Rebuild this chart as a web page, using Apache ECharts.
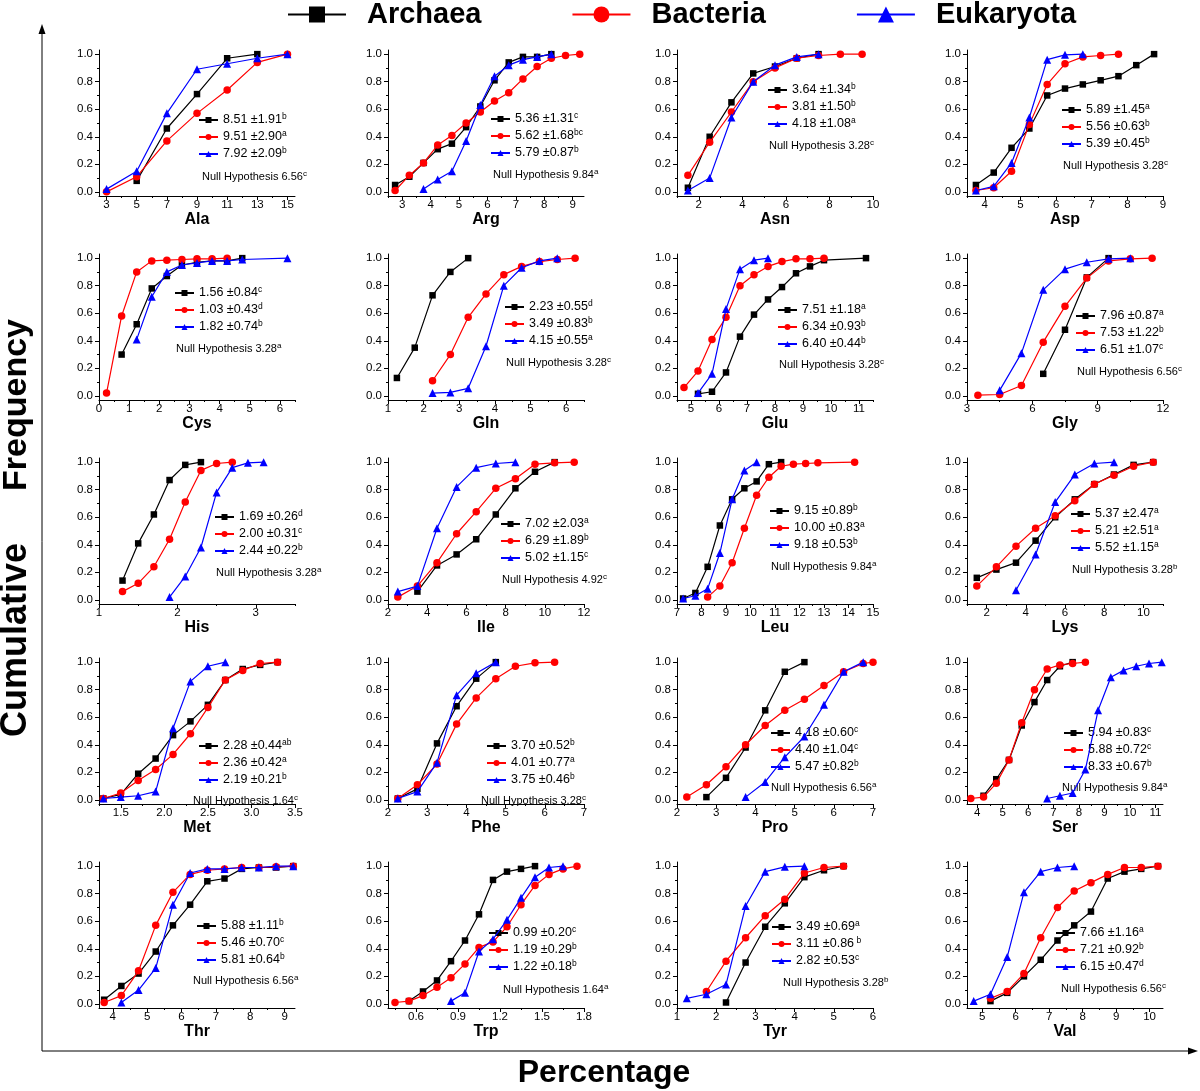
<!DOCTYPE html>
<html><head><meta charset="utf-8">
<script src="https://cdn.jsdelivr.net/npm/echarts@6/dist/echarts.min.js"></script>
<style>html,body{margin:0;padding:0;background:#fff}#c{width:1200px;height:1091px}</style>
</head><body><div id="c"></div>
<script>
const aminoAcids = ['Ala','Arg','Asn','Asp','Cys','Gln','Glu','Gly','His','Ile','Leu','Lys','Met','Phe','Pro','Ser','Thr','Trp','Tyr','Val'];
const groups = ['Archaea','Bacteria','Eukaryota'];

const archaea = [
  [[5,0.08],[7,0.46],[9,0.71],[11,0.97],[13,1.0]],
  [[2.75,0.05],[3.25,0.11],[3.75,0.21],[4.25,0.31],[4.75,0.35],[5.25,0.47],[5.75,0.62],[6.25,0.81],[6.75,0.94],[7.25,0.98],[7.75,0.98],[8.25,1.0]],
  [[1.5,0.03],[2.5,0.40],[3.5,0.65],[4.5,0.86],[5.5,0.91],[6.5,0.97],[7.5,1.0]],
  [[3.75,0.05],[4.25,0.14],[4.75,0.32],[5.25,0.46],[5.75,0.70],[6.25,0.75],[6.75,0.78],[7.25,0.81],[7.75,0.84],[8.25,0.92],[8.75,1.0]],
  [[0.75,0.30],[1.25,0.52],[1.75,0.78],[2.25,0.87],[2.75,0.95],[3.25,0.97],[3.75,0.98],[4.25,0.98],[4.75,1.0]],
  [[1.25,0.13],[1.75,0.35],[2.25,0.73],[2.75,0.90],[3.25,1.0]],
  [[5.25,0.015],[5.75,0.03],[6.25,0.17],[6.75,0.43],[7.25,0.59],[7.75,0.70],[8.25,0.79],[8.75,0.89],[9.25,0.94],[9.75,0.985],[11.25,1.0]],
  [[6.5,0.16],[7.5,0.48],[8.5,0.86],[9.5,1.0]],
  [[1.3,0.14],[1.5,0.41],[1.7,0.62],[1.9,0.87],[2.1,0.98],[2.3,1.0]],
  [[3.5,0.06],[4.5,0.25],[5.5,0.33],[6.5,0.44],[7.5,0.62],[8.5,0.81],[9.5,0.93],[10.5,1.0]],
  [[7.25,0.01],[7.75,0.05],[8.25,0.24],[8.75,0.54],[9.25,0.73],[9.75,0.81],[10.25,0.86],[10.75,0.985],[11.25,1.0]],
  [[1.5,0.16],[2.5,0.22],[3.5,0.27],[4.5,0.43],[5.5,0.60],[6.5,0.73],[7.5,0.84],[8.5,0.91],[9.5,0.98],[10.5,1.0]],
  [[1.3,0.01],[1.5,0.04],[1.7,0.19],[1.9,0.30],[2.1,0.47],[2.3,0.57],[2.5,0.69],[2.7,0.87],[2.9,0.95],[3.1,0.98],[3.3,1.0]],
  [[2.25,0.01],[2.75,0.08],[3.25,0.41],[3.75,0.68],[4.25,0.88],[4.75,1.0]],
  [[2.75,0.02],[3.25,0.16],[3.75,0.38],[4.25,0.65],[4.75,0.93],[5.25,1.0]],
  [[4.25,0.03],[4.75,0.15],[5.25,0.29],[5.75,0.54],[6.25,0.71],[6.75,0.87],[7.25,0.97],[7.75,1.0]],
  [[3.75,0.03],[4.25,0.13],[4.75,0.22],[5.25,0.38],[5.75,0.57],[6.25,0.72],[6.75,0.89],[7.25,0.91],[7.75,0.98],[8.25,0.99],[8.75,0.99],[9.25,1.0]],
  [[0.55,0.02],[0.65,0.09],[0.75,0.17],[0.85,0.31],[0.95,0.46],[1.05,0.65],[1.15,0.90],[1.25,0.96],[1.35,0.98],[1.45,1.0]],
  [[2.25,0.01],[2.75,0.30],[3.25,0.56],[3.75,0.73],[4.25,0.92],[4.75,0.97],[5.25,1.0]],
  [[5.25,0.02],[5.75,0.08],[6.25,0.20],[6.75,0.32],[7.25,0.46],[7.75,0.57],[8.25,0.67],[8.75,0.91],[9.25,0.96],[9.75,0.98],[10.25,1.0]]
];
const bacteria = [
  [[3,0.0],[5,0.11],[7,0.37],[9,0.57],[11,0.74],[13,0.94],[15,1.0]],
  [[2.75,0.01],[3.25,0.12],[3.75,0.21],[4.25,0.34],[4.75,0.41],[5.25,0.50],[5.75,0.58],[6.25,0.66],[6.75,0.72],[7.25,0.82],[7.75,0.91],[8.25,0.97],[8.75,0.99],[9.25,1.0]],
  [[1.5,0.12],[2.5,0.36],[3.5,0.58],[4.5,0.80],[5.5,0.90],[6.5,0.97],[7.5,0.99],[8.5,1.0],[9.5,1.0]],
  [[3.75,0.01],[4.25,0.03],[4.75,0.15],[5.25,0.49],[5.75,0.78],[6.25,0.93],[6.75,0.98],[7.25,0.99],[7.75,1.0]],
  [[0.25,0.02],[0.75,0.58],[1.25,0.90],[1.75,0.98],[2.25,0.985],[2.75,0.99],[3.25,0.995],[3.75,0.995],[4.25,1.0]],
  [[2.25,0.11],[2.75,0.30],[3.25,0.57],[3.75,0.74],[4.25,0.88],[4.75,0.94],[5.25,0.975],[5.75,0.99],[6.25,1.0]],
  [[4.75,0.06],[5.25,0.18],[5.75,0.41],[6.25,0.57],[6.75,0.80],[7.25,0.88],[7.75,0.94],[8.25,0.975],[8.75,0.995],[9.25,0.995],[9.75,1.0]],
  [[3.5,0.005],[4.5,0.01],[5.5,0.075],[6.5,0.39],[7.5,0.65],[8.5,0.855],[9.5,0.98],[10.5,0.995],[11.5,1.0]],
  [[1.3,0.06],[1.5,0.12],[1.7,0.24],[1.9,0.44],[2.1,0.71],[2.3,0.94],[2.5,0.99],[2.7,1.0]],
  [[2.5,0.02],[3.5,0.10],[4.5,0.27],[5.5,0.48],[6.5,0.64],[7.5,0.81],[8.5,0.88],[9.5,0.985],[10.5,0.995],[11.5,1.0]],
  [[8.25,0.02],[8.75,0.10],[9.25,0.27],[9.75,0.52],[10.25,0.76],[10.75,0.89],[11.25,0.97],[11.75,0.985],[12.25,0.99],[12.75,0.995],[14.25,1.0]],
  [[1.5,0.10],[2.5,0.24],[3.5,0.39],[4.5,0.52],[5.5,0.61],[6.5,0.72],[7.5,0.84],[8.5,0.905],[9.5,0.97],[10.5,1.0]],
  [[1.3,0.01],[1.5,0.05],[1.7,0.14],[1.9,0.22],[2.1,0.33],[2.3,0.48],[2.5,0.67],[2.7,0.87],[2.9,0.94],[3.1,0.99],[3.3,1.0]],
  [[2.25,0.01],[2.75,0.11],[3.25,0.26],[3.75,0.55],[4.25,0.74],[4.75,0.88],[5.25,0.97],[5.75,0.995],[6.25,1.0]],
  [[2.25,0.02],[2.75,0.11],[3.25,0.24],[3.75,0.40],[4.25,0.54],[4.75,0.65],[5.25,0.73],[5.75,0.83],[6.25,0.93],[6.75,0.99],[7.0,1.0]],
  [[3.75,0.01],[4.25,0.02],[4.75,0.12],[5.25,0.29],[5.75,0.56],[6.25,0.80],[6.75,0.95],[7.25,0.98],[7.75,0.99],[8.25,1.0]],
  [[3.75,0.01],[4.25,0.06],[4.75,0.24],[5.25,0.57],[5.75,0.81],[6.25,0.94],[6.75,0.97],[7.25,0.98],[7.75,0.99],[8.25,0.99],[8.75,0.995],[9.25,1.0]],
  [[0.45,0.01],[0.55,0.02],[0.65,0.06],[0.75,0.12],[0.85,0.19],[0.95,0.29],[1.05,0.41],[1.15,0.45],[1.25,0.56],[1.35,0.72],[1.45,0.86],[1.55,0.94],[1.65,0.98],[1.75,1.0]],
  [[1.75,0.09],[2.25,0.31],[2.75,0.48],[3.25,0.64],[3.75,0.76],[4.25,0.95],[4.75,0.99],[5.25,1.0]],
  [[5.25,0.04],[5.75,0.09],[6.25,0.22],[6.75,0.48],[7.25,0.70],[7.75,0.82],[8.25,0.88],[8.75,0.94],[9.25,0.99],[9.75,0.99],[10.25,1.0]]
];
const eukaryota = [
  [[3,0.02],[5,0.15],[7,0.57],[9,0.89],[11,0.93],[13,0.97],[15,1.0]],
  [[3.75,0.02],[4.25,0.09],[4.75,0.15],[5.25,0.37],[5.75,0.63],[6.25,0.84],[6.75,0.92],[7.25,0.96],[7.75,0.98],[8.25,1.0]],
  [[1.5,0.01],[2.5,0.10],[3.5,0.54],[4.5,0.80],[5.5,0.92],[6.5,0.98],[7.5,1.0]],
  [[3.75,0.01],[4.25,0.04],[4.75,0.21],[5.25,0.54],[5.75,0.96],[6.25,0.995],[6.75,1.0]],
  [[1.25,0.41],[1.75,0.72],[2.25,0.90],[2.75,0.95],[3.25,0.965],[3.75,0.98],[4.25,0.98],[4.75,0.99],[6.25,1.0]],
  [[2.25,0.02],[2.75,0.025],[3.25,0.055],[3.75,0.36],[4.25,0.80],[4.75,0.93],[5.25,0.98],[5.75,1.0]],
  [[5.25,0.02],[5.75,0.16],[6.25,0.63],[6.75,0.92],[7.25,0.985],[7.75,1.0]],
  [[4.5,0.04],[5.5,0.31],[6.5,0.77],[7.5,0.92],[8.5,0.97],[9.5,0.995],[10.5,1.0]],
  [[1.9,0.02],[2.1,0.17],[2.3,0.38],[2.5,0.78],[2.7,0.96],[2.9,0.995],[3.1,1.0]],
  [[2.5,0.06],[3.5,0.10],[4.5,0.52],[5.5,0.82],[6.5,0.96],[7.5,0.99],[8.5,1.0]],
  [[7.25,0.01],[7.75,0.03],[8.25,0.08],[8.75,0.34],[9.25,0.73],[9.75,0.94],[10.25,1.0]],
  [[3.5,0.07],[4.5,0.33],[5.5,0.71],[6.5,0.91],[7.5,0.99],[8.5,1.0]],
  [[1.3,0.01],[1.5,0.02],[1.7,0.03],[1.9,0.06],[2.1,0.52],[2.3,0.86],[2.5,0.97],[2.7,1.0]],
  [[2.25,0.01],[2.75,0.06],[3.25,0.27],[3.75,0.76],[4.25,0.92],[4.75,1.0]],
  [[3.75,0.02],[4.25,0.13],[4.75,0.31],[5.25,0.46],[5.75,0.69],[6.25,0.93],[6.75,1.0]],
  [[6.75,0.01],[7.25,0.03],[7.75,0.05],[8.25,0.22],[8.75,0.65],[9.25,0.89],[9.75,0.94],[10.25,0.97],[10.75,0.99],[11.25,1.0]],
  [[4.25,0.01],[4.75,0.10],[5.25,0.26],[5.75,0.72],[6.25,0.95],[6.75,0.98],[7.25,0.98],[7.75,0.99],[8.25,0.99],[8.75,1.0],[9.25,1.0]],
  [[0.85,0.02],[0.95,0.08],[1.05,0.38],[1.15,0.47],[1.25,0.61],[1.35,0.77],[1.45,0.92],[1.55,0.99],[1.65,1.0]],
  [[1.25,0.04],[1.75,0.07],[2.25,0.14],[2.75,0.71],[3.25,0.96],[3.75,0.995],[4.25,1.0]],
  [[4.75,0.02],[5.25,0.07],[5.75,0.34],[6.25,0.81],[6.75,0.96],[7.25,0.99],[7.75,1.0]]
];

const archaeaStats = [['8.51','1.91','b'],['5.36','1.31','c'],['3.64','1.34','b'],['5.89','1.45','a'],['1.56','0.84','c'],['2.23','0.55','d'],['7.51','1.18','a'],['7.96','0.87','a'],['1.69','0.26','d'],['7.02','2.03','a'],['9.15','0.89','b'],['5.37','2.47','a'],['2.28','0.44','ab'],['3.70','0.52','b'],['4.18','0.60','c'],['5.94','0.83','c'],['5.88','1.11','b'],['0.99','0.20','c'],['3.49','0.69','a'],['7.66','1.16','a']];
const bacteriaStats = [['9.51','2.90','a'],['5.62','1.68','bc'],['3.81','1.50','b'],['5.56','0.63','b'],['1.03','0.43','d'],['3.49','0.83','b'],['6.34','0.93','b'],['7.53','1.22','b'],['2.00','0.31','c'],['6.29','1.89','b'],['10.00','0.83','a'],['5.21','2.51','a'],['2.36','0.42','a'],['4.01','0.77','a'],['4.40','1.04','c'],['5.88','0.72','c'],['5.46','0.70','c'],['1.19','0.29','b'],['3.11','0.86',' b'],['7.21','0.92','b']];
const eukaryotaStats = [['7.92','2.09','b'],['5.79','0.87','b'],['4.18','1.08','a'],['5.39','0.45','b'],['1.82','0.74','b'],['4.15','0.55','a'],['6.40','0.44','b'],['6.51','1.07','c'],['2.44','0.22','b'],['5.02','1.15','c'],['9.18','0.53','b'],['5.52','1.15','a'],['2.19','0.21','b'],['3.75','0.46','b'],['5.47','0.82','b'],['8.33','0.67','b'],['5.81','0.64','b'],['1.22','0.18','b'],['2.82','0.53','c'],['6.15','0.47','d']];
const nullHypothesis = [['6.56','c'],['9.84','a'],['3.28','c'],['3.28','c'],['3.28','a'],['3.28','c'],['3.28','c'],['6.56','c'],['3.28','a'],['4.92','c'],['9.84','a'],['3.28','b'],['1.64','c'],['3.28','c'],['6.56','a'],['9.84','a'],['6.56','a'],['1.64','a'],['3.28','b'],['6.56','c']];

const xTickLabels = [
  ['3','5','7','9','11','13','15'], ['3','4','5','6','7','8','9'], ['2','4','6','8','10'], ['4','5','6','7','8','9'],
  ['0','1','2','3','4','5','6'], ['1','2','3','4','5','6'], ['5','6','7','8','9','10','11'], ['3','6','9','12'],
  ['1','2','3'], ['2','4','6','8','10','12'], ['7','8','9','10','11','12','13','14','15'], ['2','4','6','8','10'],
  ['1.5','2.0','2.5','3.0','3.5'], ['2','3','4','5','6','7'], ['2','3','4','5','6','7'], ['4','5','6','7','8','9','10','11'],
  ['4','5','6','7','8','9'], ['0.6','0.9','1.2','1.5','1.8'], ['1','2','3','4','5','6'], ['5','6','7','8','9','10']
];
const xMin = [2.5,2.5,1,3.5, 0,1,4.5,3, 1,2,7,1, 1.25,2,2,3.6, 3.6,0.4,1,4.55];
const xMax = [15.5,9.4,10,9, 6.5,6.5,11.5,12, 3.5,12,15,11, 3.5,7,7,11.3, 9.3,1.8,6,10.4];
const yTickLabels = ['0.0','0.2','0.4','0.6','0.8','1.0'];

// layout (pixels)
const colLeft = [99, 388, 677, 967];
const rowTop = [50, 254, 458, 658, 862];
const gridW = 196, gridH = 146;
const legendPos = [[198,120],[490,119],[767,90],[1061,110],[174,293],[504,307],[777,310],[1075,316],[214,517],[500,524],[769,511],[1070,514],[198,746],[486,746],[770,733],[1063,733],[196,926],[488,933],[771,927],[1055,933]];
const nullPos = [[202,177],[493,175],[769,146],[1063,166],[176,349],[506,363],[779,365],[1077,372],[216,573],[502,580],[771,567],[1072,570],[193,801],[481,801],[771,788],[1062,788],[193,981],[503,990],[783,983],[1061,989]];

const FONT = 'Liberation Sans, Arial, sans-serif';
const colors = ['#000000','#ff0000','#0000ff'];
const symbols = ['rect','circle','triangle'];
const symbolSizes = [6.5,7.5,8];
const seriesData = [archaea, bacteria, eukaryota];
const stats = [archaeaStats, bacteriaStats, eukaryotaStats];

const grid = [], xAxis = [], yAxis = [], series = [], legend = [], graphic = [];
const yTicks = yTickLabels.map(Number);
const yMinor = [0.1,0.3,0.5,0.7,0.9];

aminoAcids.forEach((aa, i) => {
  const r = Math.floor(i / 4), c = i % 4;
  grid.push({left: colLeft[c], top: rowTop[r], width: gridW, height: gridH});
  const ticks = xTickLabels[i].map(Number);
  const step = ticks[1] - ticks[0];
  const minor = [];
  for (let v = ticks[0] - step / 2; v <= xMax[i] + 1e-9; v += step) if (v >= xMin[i] - 1e-9) minor.push(+v.toFixed(4));
  const lbl = {}; xTickLabels[i].forEach((s, k) => lbl[ticks[k]] = s);
  xAxis.push({
    type: 'value', gridIndex: i, position: 'bottom', min: xMin[i], max: xMax[i],
    name: aa, nameLocation: 'middle', nameGap: 14,
    nameTextStyle: {fontWeight: 'bold', fontSize: 16, fontFamily: FONT, color: '#000'},
    axisLine: {show: true, onZero: false, lineStyle: {color: '#000', width: 1}},
    axisTick: {show: true, customValues: ticks, length: 4, lineStyle: {color: '#000', width: 1}},
    axisLabel: {show: true, customValues: ticks, fontSize: 11.5, margin: 3, color: '#000', fontFamily: FONT,
      formatter: v => (lbl[v] !== undefined ? lbl[v] : String(v))},
    splitLine: {show: false}
  });
  xAxis.push({
    type: 'value', gridIndex: i, position: 'bottom', min: xMin[i], max: xMax[i],
    axisLine: {show: false, onZero: false},
    axisTick: {show: true, customValues: minor, length: 2, lineStyle: {color: '#000', width: 1}},
    axisLabel: {show: false}, splitLine: {show: false}
  });
  yAxis.push({
    type: 'value', gridIndex: i, position: 'left', min: -0.03, max: 1.03,
    axisLine: {show: true, onZero: false, lineStyle: {color: '#000', width: 1}},
    axisTick: {show: true, customValues: yTicks, length: 4, lineStyle: {color: '#000', width: 1}},
    axisLabel: {show: true, customValues: yTicks, fontSize: 11.5, margin: 6, color: '#000', fontFamily: FONT,
      formatter: v => v.toFixed(1)},
    splitLine: {show: false}
  });
  yAxis.push({
    type: 'value', gridIndex: i, position: 'left', min: -0.03, max: 1.03,
    axisLine: {show: false, onZero: false},
    axisTick: {show: true, customValues: yMinor, length: 2, lineStyle: {color: '#000', width: 1}},
    axisLabel: {show: false}, splitLine: {show: false}
  });
  const names = [];
  groups.forEach((g, k) => {
    const nm = aa + '|' + g;
    names.push(nm);
    series.push({
      type: 'line', name: nm, xAxisIndex: 2 * i, yAxisIndex: 2 * i, data: seriesData[k][i],
      symbol: symbols[k], symbolSize: symbolSizes[k], showSymbol: true, showAllSymbol: true,
      lineStyle: {color: colors[k], width: 1.2}, itemStyle: {color: colors[k]},
      silent: true, z: 2 + k, emphasis: {disabled: true}
    });
  });
  legend.push({
    data: names, orient: 'vertical', left: legendPos[i][0], top: legendPos[i][1] - 8,
    itemWidth: 19, itemHeight: 7.5, itemGap: 2.5, padding: 0, selectedMode: false,
    formatter: name => {
      const k = groups.indexOf(name.split('|')[1]);
      const s = stats[k][i];
      return '{v|' + s[0] + ' \u00b1' + s[1] + '}{s|' + s[2] + '}';
    },
    textStyle: {color: '#000', fontFamily: FONT, fontSize: 12.5,
      rich: {v: {fontSize: 12.5, lineHeight: 16, fontFamily: FONT, color: '#000'},
             s: {fontSize: 8.5, lineHeight: 8, verticalAlign: 'top', fontFamily: FONT, color: '#000'}}}
  });
  graphic.push({
    type: 'text', x: nullPos[i][0], y: nullPos[i][1], silent: true,
    style: {text: '{v|Null Hypothesis ' + nullHypothesis[i][0] + '}{s|' + nullHypothesis[i][1] + '}',
      verticalAlign: 'middle', align: 'left',
      rich: {v: {fontSize: 11, lineHeight: 14, fontFamily: FONT, fill: '#000'},
             s: {fontSize: 8, lineHeight: 7, verticalAlign: 'top', fontFamily: FONT, fill: '#000'}}}
  });
});

// main legend via empty series
groups.forEach((g, k) => {
  series.push({type: 'line', name: g, xAxisIndex: 0, yAxisIndex: 0, data: [],
    symbol: symbols[k], lineStyle: {color: colors[k], width: 2.2}, itemStyle: {color: colors[k]}});
});
legend.push({
  data: groups, left: 287, top: 0, itemWidth: 58, itemHeight: 20, itemGap: 90, padding: 0, selectedMode: false,
  textStyle: {fontSize: 29, fontWeight: 'bold', fontFamily: FONT, color: '#000', lineHeight: 28, padding: [0, 0, 0, 16]}
});

// big frame axes and labels
graphic.push(
  {type: 'line', silent: true, shape: {x1: 42, y1: 1051, x2: 42, y2: 32}, style: {stroke: '#000', lineWidth: 1}},
  {type: 'polygon', silent: true, shape: {points: [[42, 24], [38.5, 34], [45.5, 34]]}, style: {fill: '#000'}},
  {type: 'line', silent: true, shape: {x1: 42, y1: 1051, x2: 1190, y2: 1051}, style: {stroke: '#000', lineWidth: 1}},
  {type: 'polygon', silent: true, shape: {points: [[1198, 1051], [1188, 1047.5], [1188, 1054.5]]}, style: {fill: '#000'}},
  {type: 'text', silent: true, x: 16, y: 640, rotation: Math.PI / 2,
    style: {text: 'Cumulative', font: 'bold 36px ' + FONT, fill: '#000', align: 'center', verticalAlign: 'middle'}},
  {type: 'text', silent: true, x: 17, y: 405, rotation: Math.PI / 2,
    style: {text: 'Frequency', font: 'bold 34px ' + FONT, fill: '#000', align: 'center', verticalAlign: 'middle'}},
  {type: 'text', silent: true, x: 604, y: 1073,
    style: {text: 'Percentage', font: 'bold 32px ' + FONT, fill: '#000', align: 'center', verticalAlign: 'middle'}}
);

const chart = echarts.init(document.getElementById('c'), null, {renderer: 'canvas'});
chart.setOption({animation: false, grid, xAxis, yAxis, series, legend, graphic});
</script>
</body></html>
